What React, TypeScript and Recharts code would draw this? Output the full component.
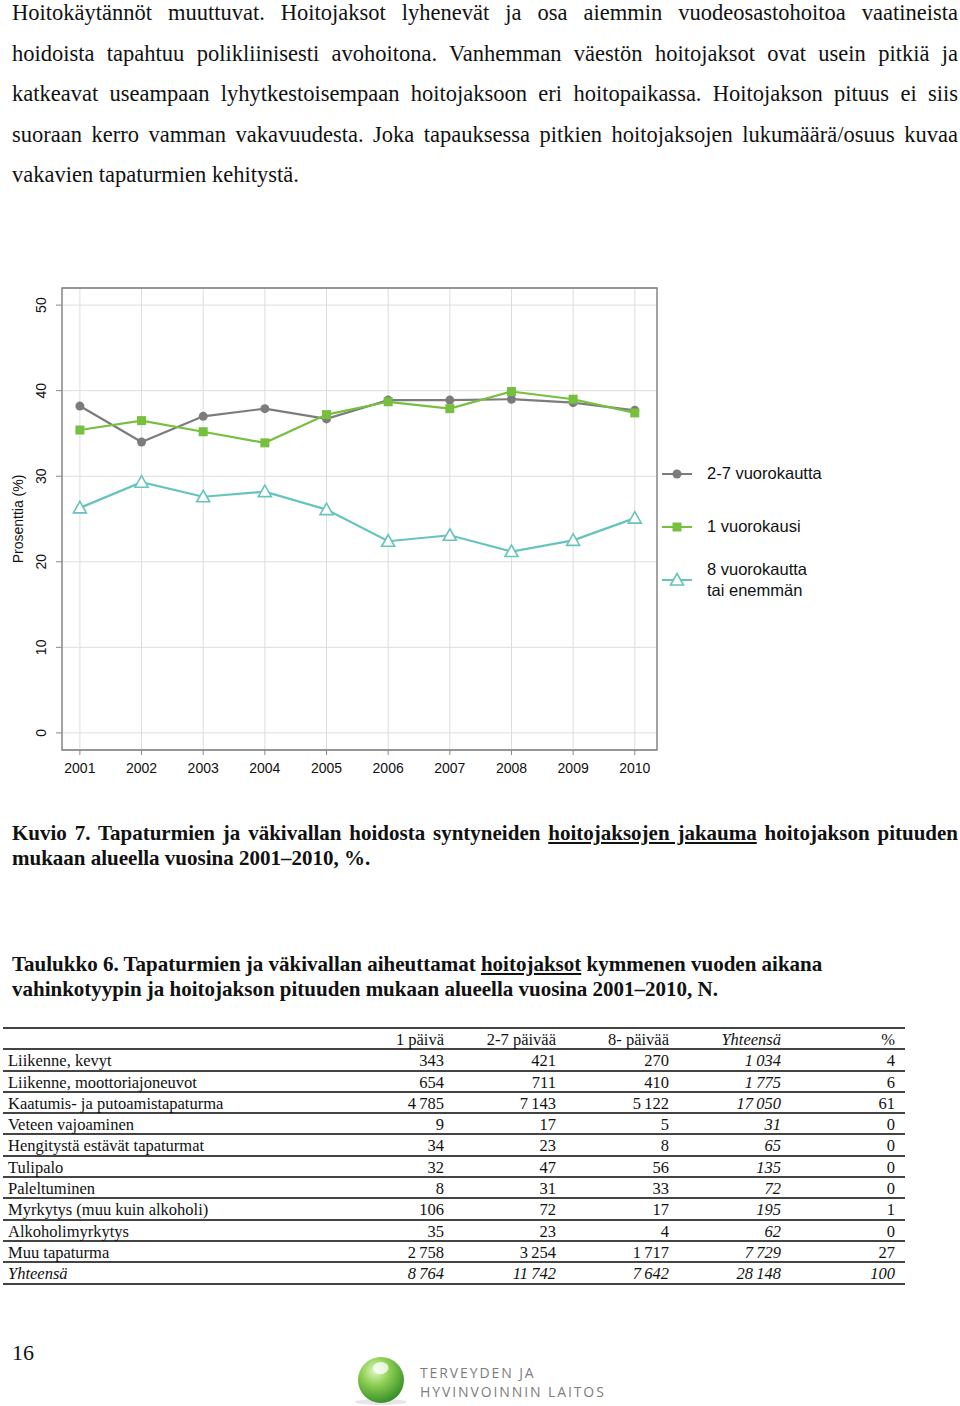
import React from "react";
import {
  CartesianGrid,
  Legend,
  Line,
  LineChart,
  ReferenceArea,
  XAxis,
  YAxis,
} from "recharts";

// chart data (% of care periods by length)
const YEARS = [2001, 2002, 2003, 2004, 2005, 2006, 2007, 2008, 2009, 2010];
const DAYS_2_7 = [38.2, 34.0, 37.0, 37.9, 36.7, 38.9, 38.9, 39.0, 38.6, 37.7];
const DAY_1 = [35.4, 36.5, 35.2, 33.9, 37.2, 38.7, 37.9, 39.9, 39.0, 37.4];
const DAYS_8 = [26.3, 29.3, 27.6, 28.2, 26.1, 22.4, 23.1, 21.2, 22.5, 25.1];
const Y_TICKS = [0, 10, 20, 30, 40, 50];

// table data
const TABLE_HEAD = ["1 päivä", "2-7 päivää", "8- päivää", "Yhteensä", "%"];
const TABLE_ROWS = [
  "Liikenne, kevyt",
  "Liikenne, moottoriajoneuvot",
  "Kaatumis- ja putoamistapaturma",
  "Veteen vajoaminen",
  "Hengitystä estävät tapaturmat",
  "Tulipalo",
  "Paleltuminen",
  "Myrkytys (muu kuin alkoholi)",
  "Alkoholimyrkytys",
  "Muu tapaturma",
];
const COL_1 = [343, 654, 4785, 9, 34, 32, 8, 106, 35, 2758];
const COL_2_7 = [421, 711, 7143, 17, 23, 47, 31, 72, 23, 3254];
const COL_8 = [270, 410, 5122, 5, 8, 56, 33, 17, 4, 1717];
const COL_TOTAL = [1034, 1775, 17050, 31, 65, 135, 72, 195, 62, 7729];
const COL_PCT = [4, 6, 61, 0, 0, 0, 0, 1, 0, 27];
const TOTAL_ROW = [8764, 11742, 7642, 28148, 100];

const GRAY = "#7c7c7c";
const GREEN = "#77bf3f";
const CYAN = "#66c4bd";
const SANS = "'Liberation Sans', Arial, sans-serif";
const SERIF = "'Liberation Serif', 'Times New Roman', serif";

const X_DOMAIN = [2000.71, 2010.36];
const Y_DOMAIN = [-2, 52];

const chartData = YEARS.map((year, i) => ({
  year,
  d27: DAYS_2_7[i],
  d1: DAY_1[i],
  d8: DAYS_8[i],
}));

const SERIES = [
  { key: "d27", name: "2-7 vuorokautta", color: GRAY, marker: "circle" },
  { key: "d1", name: "1 vuorokausi", color: GREEN, marker: "square" },
  { key: "d8", name: "8 vuorokautta\ntai enemmän", color: CYAN, marker: "triangle" },
];

function Marker({ type, cx, cy, color }: { type: string; cx: number; cy: number; color: string }) {
  if (type === "circle") return <circle cx={cx} cy={cy} r={4.5} fill={color} />;
  if (type === "square")
    return <rect x={cx - 4.5} y={cy - 4.5} width={9} height={9} fill={color} />;
  return (
    <path
      d={`M${cx},${cy - 6.5} L${cx + 6.5},${cy + 5} L${cx - 6.5},${cy + 5} Z`}
      fill="#fff"
      stroke={color}
      strokeWidth={1.6}
    />
  );
}

function makeDot(type: string, color: string) {
  return (props: any) => {
    if (props.cx == null || props.cy == null) return <g key={props.index} />;
    return (
      <g key={`${type}-${props.index}`}>
        <Marker type={type} cx={props.cx} cy={props.cy} color={color} />
      </g>
    );
  };
}

function LegendBox() {
  return (
    <div style={{ fontFamily: SANS, fontSize: 16.5, color: "#111" }}>
      {SERIES.map((s) => (
        <div key={s.key} style={{ height: 53, display: "flex", alignItems: "center" }}>
          <svg width={32} height={16} style={{ flex: "none" }}>
            <line x1={2} y1={8} x2={32} y2={8} stroke={s.color} strokeWidth={2} />
            <Marker type={s.marker} cx={17} cy={8} color={s.color} />
          </svg>
          <span style={{ marginLeft: 15, whiteSpace: "pre-line", lineHeight: "21px" }}>{s.name}</span>
        </div>
      ))}
    </div>
  );
}

function XTick({ x, y, payload }: any) {
  return (
    <text x={x} y={y} dy="0.71em" textAnchor="middle" fontSize={14} fontFamily={SANS} fill="#111">
      {payload.value}
    </text>
  );
}

function YTick({ x, y, payload }: any) {
  return (
    <text
      x={x}
      y={y}
      transform={`rotate(-90, ${x}, ${y})`}
      textAnchor="middle"
      dominantBaseline="central"
      fontSize={14}
      fontFamily={SANS}
      fill="#111"
    >
      {payload.value}
    </text>
  );
}

function YLabel(props: any) {
  const vb = props.viewBox || { x: 0, y: 18, height: 462 };
  const cx = vb.x + 18;
  const cy = vb.y + vb.height / 2;
  return (
    <text
      x={cx}
      y={cy}
      transform={`rotate(-90, ${cx}, ${cy})`}
      textAnchor="middle"
      dominantBaseline="central"
      fontSize={14}
      fontFamily={SANS}
      fill="#111"
    >
      Prosenttia (%)
    </text>
  );
}

const fmt = (n: number) => String(n).replace(/\B(?=(\d{3})+(?!\d))/g, "\u2009");

const PARAGRAPH = [
  "Hoitokäytännöt muuttuvat. Hoitojaksot lyhenevät ja osa aiemmin vuodeosastohoitoa vaatineista",
  "hoidoista tapahtuu polikliinisesti avohoitona. Vanhemman väestön hoitojaksot ovat usein pitkiä ja",
  "katkeavat useampaan lyhytkestoisempaan hoitojaksoon eri hoitopaikassa. Hoitojakson pituus ei siis",
  "suoraan kerro vamman vakavuudesta. Joka tapauksessa pitkien hoitojaksojen lukumäärä/osuus kuvaa",
  "vakavien tapaturmien kehitystä.",
];

const justified: React.CSSProperties = {
  textAlign: "justify",
  textAlignLast: "justify",
  whiteSpace: "nowrap",
};

function Page() {
  const colRight = [444, 556, 669, 781, 895];
  const rowH = 21.3;
  const cell = (v: React.ReactNode, i: number, italic = false) => (
    <div
      key={i}
      style={{
        position: "absolute",
        right: 905 - colRight[i],
        top: 0,
        lineHeight: `${rowH}px`,
        fontStyle: italic ? "italic" : "normal",
      }}
    >
      {v}
    </div>
  );
  const rowStyle: React.CSSProperties = {
    position: "relative",
    height: rowH,
    borderBottom: "2px solid #444",
    boxSizing: "border-box",
  };
  const logoText: React.CSSProperties = {
    position: "absolute",
    left: 420,
    fontFamily: "'Open Sans', 'DejaVu Sans', sans-serif",
    fontSize: 14,
    lineHeight: "16px",
    letterSpacing: 1.9,
    color: "#7d7d7d",
    whiteSpace: "nowrap",
  };

  return (
    <div
      style={{
        position: "absolute",
        left: 0,
        top: 0,
        width: 960,
        height: 1406,
        background: "#fff",
        color: "#111",
        fontFamily: SERIF,
        overflow: "hidden",
      }}
    >
      {/* body text */}
      <div style={{ position: "absolute", left: 12, top: -7, width: 946, fontSize: 22.5, lineHeight: "40.5px" }}>
        {PARAGRAPH.map((line, i) => (
          <div key={i} style={i < PARAGRAPH.length - 1 ? justified : { whiteSpace: "nowrap" }}>
            {line}
          </div>
        ))}
      </div>

      {/* chart */}
      <div style={{ position: "absolute", left: 0, top: 270 }}>
        <LineChart width={960} height={520} data={chartData} margin={{ top: 18, right: 303, bottom: 0, left: 0 }}>
          <CartesianGrid stroke="#dedede" strokeWidth={1} />
          <XAxis
            dataKey="year"
            type="number"
            domain={X_DOMAIN}
            ticks={YEARS}
            allowDataOverflow
            axisLine={false}
            tickLine={{ stroke: "#888" }}
            tickSize={5}
            tickMargin={8}
            height={40}
            tick={<XTick />}
          />
          <YAxis
            type="number"
            domain={Y_DOMAIN}
            ticks={Y_TICKS}
            allowDataOverflow
            axisLine={false}
            tickLine={{ stroke: "#888" }}
            tickSize={6}
            tickMargin={15}
            width={62}
            tick={<YTick />}
            label={<YLabel />}
          />
          <ReferenceArea
            x1={X_DOMAIN[0]}
            x2={X_DOMAIN[1]}
            y1={Y_DOMAIN[0]}
            y2={Y_DOMAIN[1]}
            fill="none"
            fillOpacity={0}
            stroke="#7a7a7a"
            strokeWidth={1.3}
            ifOverflow="visible"
          />
          {SERIES.map((s) => (
            <Line
              key={s.key}
              dataKey={s.key}
              name={s.name}
              stroke={s.color}
              strokeWidth={2.2}
              dot={makeDot(s.marker, s.color)}
              activeDot={false}
              isAnimationActive={false}
            />
          ))}
          <Legend
            layout="vertical"
            align="center"
            verticalAlign="middle"
            wrapperStyle={{ left: 660, top: 177, width: 220 }}
            content={() => <LegendBox />}
          />
        </LineChart>
      </div>

      {/* figure caption */}
      <div style={{ position: "absolute", left: 12, top: 820.5, width: 946, fontSize: 21, lineHeight: "25px", fontWeight: "bold" }}>
        <div style={justified}>
          Kuvio 7. Tapaturmien ja väkivallan hoidosta syntyneiden{" "}
          <span style={{ textDecoration: "underline" }}>hoitojaksojen jakauma</span> hoitojakson pituuden
        </div>
        <div>mukaan alueella vuosina 2001–2010, %.</div>
      </div>

      {/* table caption */}
      <div style={{ position: "absolute", left: 12, top: 951.5, width: 946, fontSize: 21, lineHeight: "25px", fontWeight: "bold" }}>
        <div style={{ whiteSpace: "nowrap" }}>
          Taulukko 6. Tapaturmien ja väkivallan aiheuttamat{" "}
          <span style={{ textDecoration: "underline" }}>hoitojaksot</span> kymmenen vuoden aikana
        </div>
        <div>vahinkotyypin ja hoitojakson pituuden mukaan alueella vuosina 2001–2010, N.</div>
      </div>

      {/* table */}
      <div
        style={{
          position: "absolute",
          left: 3,
          top: 1027,
          width: 902,
          fontSize: 16.5,
          borderTop: "2px solid #444",
        }}
      >
        <div style={rowStyle}>
          {TABLE_HEAD.map((h, i) => cell(h, i, i === 3))}
        </div>
        {TABLE_ROWS.map((name, r) => (
          <div key={name} style={rowStyle}>
            <div style={{ position: "absolute", left: 5, top: 0, lineHeight: `${rowH}px` }}>{name}</div>
            {[COL_1[r], COL_2_7[r], COL_8[r], COL_TOTAL[r], COL_PCT[r]].map((v, i) =>
              cell(fmt(v), i, i === 3)
            )}
          </div>
        ))}
        <div style={{ ...rowStyle, fontStyle: "italic" }}>
          <div style={{ position: "absolute", left: 5, top: 0, lineHeight: `${rowH}px` }}>Yhteensä</div>
          {TOTAL_ROW.map((v, i) => cell(fmt(v), i, true))}
        </div>
      </div>

      {/* page number */}
      <div style={{ position: "absolute", left: 12, top: 1340, fontSize: 22, lineHeight: "26px" }}>16</div>

      {/* logo */}
      <svg style={{ position: "absolute", left: 345, top: 1350 }} width={70} height={56}>
        <defs>
          <radialGradient id="ball" cx="0.38" cy="0.3" r="0.75">
            <stop offset="0%" stopColor="#e4f7c8" />
            <stop offset="40%" stopColor="#8fd054" />
            <stop offset="100%" stopColor="#2f8a25" />
          </radialGradient>
        </defs>
        <ellipse cx={36} cy={52} rx={26} ry={3} fill="#e6e6e6" />
        <circle cx={36} cy={30} r={23} fill="url(#ball)" />
        <path d="M30,14 q6,-4 12,0 q4,5 -2,9 q-6,3 -10,-1 q-4,-4 0,-8 Z" fill="#fff" opacity={0.75} />
      </svg>
      <div style={{ ...logoText, top: 1365 }}>TERVEYDEN JA</div>
      <div style={{ ...logoText, top: 1384 }}>HYVINVOINNIN LAITOS</div>
    </div>
  );
}

export default function App() {
  return <Page />;
}
